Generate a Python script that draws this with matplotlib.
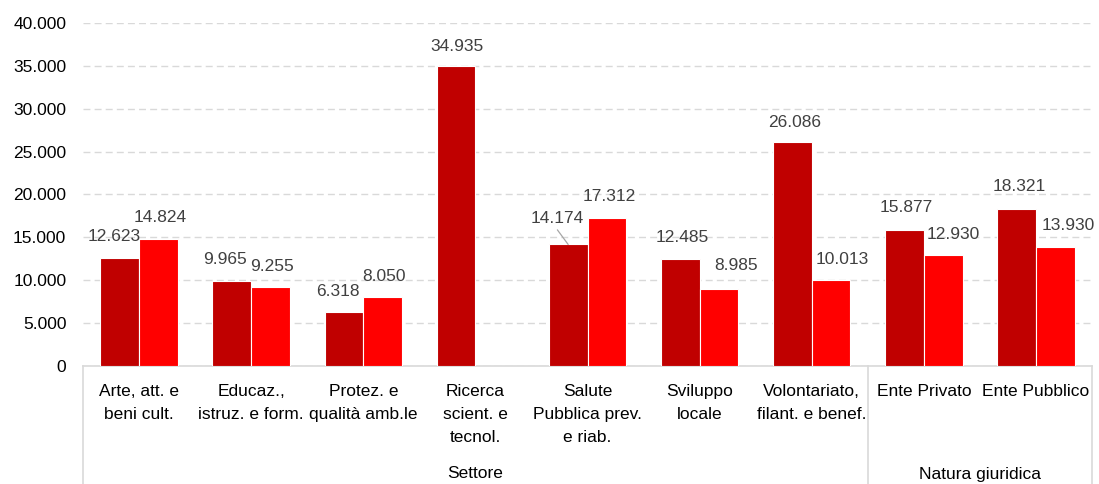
import matplotlib
matplotlib.use('Agg')
import matplotlib.pyplot as plt
import matplotlib.transforms as mtransforms
import numpy as np

# categories and values
categories = ["Arte, att. e\nbeni cult.", "Educaz.,\nistruz. e form.", "Protez. e\nqualità amb.le",
              "Ricerca\nscient. e\ntecnol.", "Salute\nPubblica prev.\ne riab.", "Sviluppo\nlocale",
              "Volontariato,\nfilant. e benef.", "Ente Privato", "Ente Pubblico"]
groups = ["Settore", "Natura giuridica"]
group_sizes = [7, 2]
serie_a = [12623, 9965, 6318, 34935, 14174, 12485, 26086, 15877, 18321]
serie_b = [14824, 9255, 8050, None, 17312, 8985, 10013, 12930, 13930]
yticks = [0, 5000, 10000, 15000, 20000, 25000, 30000, 35000, 40000]

# label offsets in pixels (dx, dy above bar top)
off_a = [(-6, 21), (-7, 21), (-6, 20), (1, 20), (-11, 26), (2, 21), (2, 20), (2, 22), (3, 22)]
off_b = [(2, 21), (1, 20), (1, 20), None, (2, 21), (17, 23), (11, 21), (10, 21), (13, 21)]

def fmt(v):
    return f"{v:,.0f}".replace(",", ".")

plt.rcParams['font.family'] = ['Liberation Sans', 'DejaVu Sans']

fig = plt.figure(figsize=(10.99, 4.84), dpi=100)
ax = fig.add_axes([83 / 1099, 118 / 484, 1009 / 1099, 343 / 484])

x = np.arange(len(categories))
w = 0.345
ya = np.array(serie_a, dtype=float)
yb = np.array([np.nan if v is None else v for v in serie_b], dtype=float)
ax.bar(x - w / 2, ya, w, color='#C00000', edgecolor='white', linewidth=0.8, zorder=3)
ax.bar(x + w / 2, yb, w, color='#FF0000', edgecolor='white', linewidth=0.8, zorder=3)

# data labels
lab_kw = dict(textcoords='offset pixels', ha='center', va='center', fontsize=12.5, color='#404040')
for i in range(len(categories)):
    dx, dy = off_a[i]
    if i == 4:
        ax.annotate(fmt(ya[i]), xy=(x[i] - w / 2, ya[i]), xytext=(dx, dy), **lab_kw,
                    arrowprops=dict(arrowstyle='-', color='#A6A6A6', lw=0.9, relpos=(0.45, 0.0),
                                    shrinkA=1, shrinkB=0))
    else:
        ax.annotate(fmt(ya[i]), xy=(x[i] - w / 2, ya[i]), xytext=(dx, dy), **lab_kw)
    if off_b[i] is not None:
        dx, dy = off_b[i]
        ax.annotate(fmt(yb[i]), xy=(x[i] + w / 2, yb[i]), xytext=(dx, dy), **lab_kw)

ax.set_xlim(-0.5, len(categories) - 0.5)
ax.set_ylim(0, 40000)
ax.set_yticks(yticks)
ax.set_yticklabels([fmt(v) for v in yticks], fontsize=12.5, color='black')
ax.yaxis.grid(True, color='#D9D9D9', linestyle=(0, (5, 3)), linewidth=1, zorder=0)
ax.set_axisbelow(True)
ax.tick_params(axis='y', length=0, pad=12)

ax.set_xticks(x)
ax.set_xticklabels(categories, fontsize=12.5, color='black', linespacing=1.68, va='top')
ax.tick_params(axis='x', length=0, pad=13)

for s in ['top', 'right', 'left']:
    ax.spines[s].set_visible(False)
ax.spines['bottom'].set_color('#D9D9D9')
ax.spines['bottom'].set_linewidth(1.2)

# grouped category axis
trans = mtransforms.blended_transform_factory(ax.transData, ax.transAxes)
bottom = -(118 / 343)
edges = np.concatenate([[0], np.cumsum(group_sizes)]) - 0.5
for e in edges:
    ax.plot([e, e], [0, bottom], transform=trans, color='#D9D9D9', lw=1.2, clip_on=False)
for g, a, b in zip(groups, edges[:-1], edges[1:]):
    ax.text((a + b) / 2, -(108 / 343), g, transform=trans, ha='center', va='center',
            fontsize=12.5, color='black')

plt.savefig('out.png', dpi=100)
